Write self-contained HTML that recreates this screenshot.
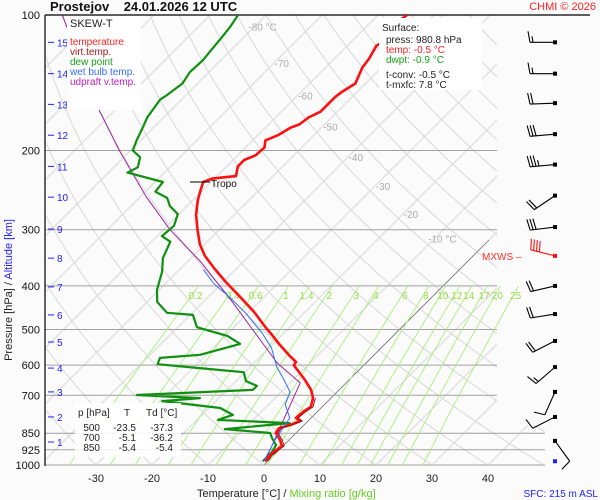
<!DOCTYPE html>
<html><head><meta charset="utf-8"><style>
html,body{margin:0;padding:0;background:#fbfbfb;}
svg{display:block;font-family:"Liberation Sans",sans-serif;}
</style></head><body>
<svg id="c" width="600" height="500" viewBox="0 0 600 500">
<defs>
<clipPath id="plotclip"><rect x="45" y="15" width="452" height="450"/><rect x="497" y="425" width="48" height="40"/></clipPath>
</defs>
<rect x="0" y="0" width="600" height="500" fill="#fbfbfb"/>
<g id="grid" clip-path="url(#plotclip)"></g>
<g id="plines"></g>
<g id="mix"></g>
<g id="series" clip-path="url(#plotclip)"></g>
<g id="barbs"></g>
<g id="axes"></g>

<rect x="67" y="16" width="74" height="94" fill="#fff"/>
<g font-size="10">
<text x="70" y="27" font-size="11" fill="#222">SKEW-T</text>
<text x="70" y="45" fill="#ff2020">temperature</text>
<text x="70" y="55" fill="#a01818">virt.temp.</text>
<text x="70" y="65" fill="#18a018">dew point</text>
<text x="70" y="75" fill="#3070ff">wet bulb temp.</text>
<text x="70" y="85" fill="#c020c0">udpraft v.temp.</text>
</g>
<rect x="379" y="18" width="103" height="72" fill="#fff"/>
<g font-size="10" fill="#222">
<text x="382" y="31">Surface:</text>
<text x="386" y="43">press: 980.8 hPa</text>
<text x="386" y="53" fill="#ff2020">temp: -0.5 °C</text>
<text x="386" y="63" fill="#18a018">dwpt: -0.9 °C</text>
<text x="386" y="78">t-conv: -0.5 °C</text>
<text x="386" y="88">t-mxfc: 7.8 °C</text>
</g>
<rect x="75" y="403" width="106" height="54" fill="#fff" opacity="0.85"/>
<g font-size="10" fill="#222">
<text x="78" y="416">p [hPa]</text>
<text x="124" y="416">T</text>
<text x="146" y="416">Td [°C]</text>
<g text-anchor="end">
<text x="100" y="431">500</text><text x="136" y="431">-23.5</text><text x="173" y="431">-37.3</text>
<text x="100" y="441">700</text><text x="136" y="441">-5.1</text><text x="173" y="441">-36.2</text>
<text x="100" y="451">850</text><text x="136" y="451">-5.4</text><text x="173" y="451">-5.4</text>
</g></g>

<text x="50" y="11" font-size="13" font-weight="bold" fill="#111" xml:space="preserve">Prostejov    24.01.2026 12 UTC</text>
<text x="596" y="10" font-size="11" fill="#ff2020" text-anchor="end">CHMI © 2026</text>
<text x="197" y="497" font-size="11" fill="#222">Temperature [°C]  /  <tspan fill="#66cc22">Mixing ratio [g/kg]</tspan></text>
<text x="598" y="497" font-size="10" fill="#2020ff" text-anchor="end">SFC: 215 m ASL</text>
<text transform="translate(12,290) rotate(-90)" font-size="11" fill="#222" text-anchor="middle">Pressure [hPa]  /  <tspan fill="#2020ff">Altitude [km]</tspan></text>
<line x1="190" y1="182" x2="210" y2="182" stroke="#000"/>
<text x="211" y="187" font-size="10" fill="#111">Tropo</text>
<text x="482" y="260" font-size="10" fill="#ff3030">MXWS –</text>
</svg>
<script>
var tempP=[981,950,926,907,880,849,828,815,799,786,762,743,710,681,647,618,600,590,573,541,514,496,457,423,392,365,343,323,300,278,258,245,235,231,228,217,210,205,197,190,185,178,175,169,164,152,148,142,131,125,117,114,107,103,100];
var tempT=[-0.5,-0.7,-0.5,-0.2,-1.6,-3.6,-3.9,-2.5,-1.4,-2.7,-2.5,-2.0,-3.2,-5.0,-7.9,-10.7,-12.5,-12.7,-14.8,-18.6,-21.8,-24.1,-29.1,-34.3,-39.5,-44.1,-47.9,-50.9,-53.9,-56.8,-59.1,-60.4,-61.4,-60.4,-56.6,-58.0,-58.0,-56.8,-56.6,-57.7,-56.4,-55.5,-54.5,-54.1,-53.0,-53.0,-52.7,-51.8,-53.4,-53.8,-54.8,-54.1,-55.2,-55.2,-54.8];
var dewP=[981,936,903,871,849,832,807,794,774,747,721,710,699,681,667,651,622,609,597,578,569,538,517,494,464,459,434,408,372,347,319,310,294,277,266,255,247,235,224,218,207,200,190,177,169,154,151,142,134,126,118,112,106,100];
var dewT=[-0.9,-0.9,-1.4,-3.4,-4.6,-13.4,-2.9,-16.3,-14.5,-18.0,-29.6,-23.4,-35.2,-15.4,-15.4,-18.2,-20.2,-28.8,-37.0,-37.7,-31.1,-25.9,-29.5,-36.6,-39.5,-44.5,-48.2,-50.4,-52.7,-55.0,-56.6,-59.1,-58.8,-60.2,-63.0,-65.0,-68.2,-68.6,-76.6,-75.7,-77.1,-79.6,-80.7,-82.0,-82.9,-83.8,-83.4,-82.7,-83.4,-83.2,-83.6,-83.9,-84.3,-85.0];
var wetP=[981,880,828,786,734,688,647,606,550,509,459,425,395,368];
var wetT=[-0.7,-2.5,-3.2,-3.8,-7.0,-8.4,-11.6,-15.2,-19.5,-23.9,-30.5,-35.9,-41.4,-45.7];
var parcelP=[981,657,593,429,353,300,254,200,163,100];
var parcelT=[-0.5,-8.2,-15.9,-35.5,-47.7,-58.8,-68.8,-82.0,-92.7,-116.4];
var pressureTicks=[100,200,300,400,500,600,700,850,925,1000];
var tempTicks=[-30,-20,-10,0,10,20,30,40];
var isothermLabels=[-80,-70,-60,-50,-40,-30,-20,-10];
var isothermLabelP=[106,128,151,177,207,240,277,314];
var mixRatios=[0.2,0.4,0.6,1,1.4,2,3,4,6,8,10,12,14,17,20,25];
var kmLabels=[1,2,3,4,5,6,7,8,9,10,11,12,13,14,15];
var kmPressure=[889,782,688,609,533,464,402,347,299,254,217,185,158,135,115];
var barbP=[115,135,157,184,215,252,296,343,400,462,530,606,688,782,884,981];
var barbDir=[270,270,268,265,265,236,263,284,257,261,243,229,204,243,144,0];
var barbSpd=[15,15,20,30,35,20,30,40,20,20,20,15,10,10,10,0];

var NS='http://www.w3.org/2000/svg';
function yP(p){return 15+450*Math.log10(p/100);}
function xT(t,p){return 264+5.6*t+(465-yP(p));}
function mk(tag,parent,attrs){var e=document.createElementNS(NS,tag);for(var k in attrs)e.setAttribute(k,attrs[k]);document.getElementById(parent).appendChild(e);return e;}
function pathFrom(P,T){var d='';for(var i=0;i<P.length;i++){d+=(i?'L':'M')+xT(T[i],P[i]).toFixed(1)+','+yP(P[i]).toFixed(1);}return d;}

for(var t=-160;t<=40;t+=10){
  var l=mk('line','grid',{x1:xT(t,1000),y1:465,x2:xT(t,100),y2:15,stroke:'#d8d8d8','stroke-width':1});
  
  
}
for(var th=-40;th<=220;th+=10){
  var d='';
  for(var p=1050;p>=100;p-=10){var T=(th+273.15)*Math.pow(p/1000,0.286)-273.15;d+=(p==1050?'M':'L')+xT(T,p).toFixed(1)+','+yP(p).toFixed(1);}
  var a=mk('path','grid',{d:d,fill:'none',stroke:'#d8d8d8','stroke-width':1});
  
  
}
var z=mk('line','grid',{x1:xT(0,1000),y1:465,x2:xT(0,1000)+225,y2:240,stroke:'#777','stroke-width':0.8});



pressureTicks.forEach(function(p){
  var y=yP(p);
  var x2=p>=850?545:497;
  var l=mk('line','plines',{x1:45,y1:y,x2:(p==100?590:x2),y2:y,stroke:(p==100?'#000':'#a0a0a0'),'stroke-width':(p==100?1.2:1)});
  
  
  var tx=mk('text','axes',{x:40,y:y+4,'font-size':11,'text-anchor':'end',fill:'#111'});
  tx.textContent=p;
  
  
});
mixRatios.forEach(function(w){
  var d='';
  for(var p=1000;p>=400;p-=10){var e=w*p/(622+w);var g=Math.log(e/6.112);var T=243.5*g/(17.67-g);d+=(p==1000?'M':'L')+xT(T,p).toFixed(1)+','+yP(p).toFixed(1);}
  var m=mk('path','mix',{d:d,fill:'none',stroke:'#a6f07a','stroke-width':0.9});
  
  
  var e4=w*400/(622+w),g4=Math.log(e4/6.112),T4=243.5*g4/(17.67-g4);
  var lb=mk('text','mix',{x:xT(T4,400)-3,y:299,'font-size':10,fill:'#99dd44','text-anchor':'middle'});
  lb.textContent=w;
  
  
});
isothermLabels.forEach(function(t,i){
  var p=isothermLabelP[i];
  var lb=mk('text','axes',{x:xT(t,p)+8,y:yP(p)+4,'font-size':10,fill:'#aaa','text-anchor':'middle'});
  lb.textContent=(t==-80||t==-10)?t+' °C':t;
  
  
});
tempTicks.forEach(function(t){
  var lb=mk('text','axes',{x:xT(t,1000),y:482,'font-size':11,fill:'#222','text-anchor':'middle'});
  lb.textContent=t;
  
  
});
var ax=mk('line','axes',{x1:45,y1:15,x2:45,y2:466,stroke:'#000','stroke-width':1.2});


kmLabels.forEach(function(k,i){
  var y=yP(kmPressure[i]);
  var t=mk('line','axes',{x1:48,y1:y,x2:54,y2:y,stroke:'#2020ff','stroke-width':1});
  
  
  var lb=mk('text','axes',{x:57,y:y+4,'font-size':10,fill:'#2020ff'});
  lb.textContent=k;
  
  
});
var s1=mk('path','series',{d:pathFrom(parcelP,parcelT),fill:'none',stroke:'#a020a0','stroke-width':1});


var s2=mk('path','series',{d:pathFrom(dewP,dewT),fill:'none',stroke:'#109010','stroke-width':2.2,'stroke-linejoin':'round'});


var s3=mk('path','series',{d:pathFrom(tempP,tempT),fill:'none',stroke:'#ff1010','stroke-width':2.6,'stroke-linejoin':'round'});


var s4=mk('path','series',{d:pathFrom(wetP,wetT),fill:'none',stroke:'#2f6fff','stroke-width':1,'stroke-linejoin':'round'});


var s5=mk('path','series',{d:pathFrom(tempP.slice(0,13),tempT.slice(0,13).map(function(v){return v+0.4;})),fill:'none',stroke:'#901010','stroke-width':0.9});



barbP.forEach(function(p,i){
  var y=yP(p),x0=555;
  var red=(i==7),col=red?'#ff1010':'#000';
  if(barbSpd[i]==0){
    var c=mk('rect','barbs',{x:x0-2,y:y-2,width:4,height:4,fill:'#2020ff'});
    
    
    return;
  }
  var r=barbDir[i]*Math.PI/180,sx=Math.sin(r),sy=-Math.cos(r);
  var ex=x0+sx*25,ey=y+sy*25;
  var g=mk('g','barbs',{stroke:col,'stroke-width':1.1,fill:'none'});
  
  
  var ln=document.createElementNS(NS,'line');ln.setAttribute('x1',x0);ln.setAttribute('y1',y);ln.setAttribute('x2',ex);ln.setAttribute('y2',ey);g.appendChild(ln);
  var dot=document.createElementNS(NS,'rect');dot.setAttribute('x',x0-2);dot.setAttribute('y',y-2);dot.setAttribute('width',4);dot.setAttribute('height',4);dot.setAttribute('fill',col);dot.setAttribute('stroke','none');g.appendChild(dot);
  var px=-sy,py=sx,s=barbSpd[i],k=0;
  while(s>=10){var bx=ex-sx*k*3,by=ey-sy*k*3;var b=document.createElementNS(NS,'line');b.setAttribute('x1',bx);b.setAttribute('y1',by);b.setAttribute('x2',bx+px*11+sx*2);b.setAttribute('y2',by+py*11+sy*2);g.appendChild(b);s-=10;k++;}
  if(s>=5){var bx2=ex-sx*k*3,by2=ey-sy*k*3;var h=document.createElementNS(NS,'line');h.setAttribute('x1',bx2);h.setAttribute('y1',by2);h.setAttribute('x2',bx2+px*6+sx);h.setAttribute('y2',by2+py*6+sy);g.appendChild(h);}
});
</script>
</body></html>
